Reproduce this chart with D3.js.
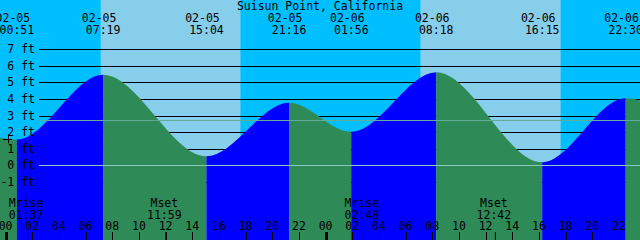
<!DOCTYPE html>
<meta charset="utf-8">
<style>
body { margin: 0; }
text { font-family: "DejaVu Sans Mono", monospace; font-size: 11.5px; fill: #000; }
</style>
<body>
<script src="https://cdn.jsdelivr.net/npm/d3@7"></script>
<script>
// tide events (first and last lie just outside the window)
var tideTimes = ["2024-02-04 18:20", "2024-02-05 00:51", "2024-02-05 07:19", "2024-02-05 15:04",
                 "2024-02-05 21:16", "2024-02-06 01:56", "2024-02-06 08:18", "2024-02-06 16:15",
                 "2024-02-06 22:30", "2024-02-07 03:15"];
var tideHeights = [3.9, 1.56, 5.47, 0.55, 3.78, 2.02, 5.62, 0.18, 4.04, 2.1];

var sunrise = ["2024-02-05 07:08", "2024-02-06 07:07"];
var sunset = ["2024-02-05 17:37", "2024-02-06 17:38"];

var moonLabels = ["Mrise", "Mset", "Mrise", "Mset"];
var moonTimes = ["2024-02-05 01:37", "2024-02-05 11:59", "2024-02-06 02:48", "2024-02-06 12:42"];

var feetTicks = [-1, 0, 1, 2, 3, 4, 5, 6, 7];
var mslHeight = 2.71;
var nowMark = ["2024-02-05 00:09", 1.6];

var title = "Suisun Point, California";

var width = 640, height = 240;
var parse = d3.utcParse("%Y-%m-%d %H:%M");
var fmtDate = d3.utcFormat("%m-%d"), fmtTime = d3.utcFormat("%H:%M"), fmtHour = d3.utcFormat("%H");

var x = d3.scaleUtc()
    .domain([parse("2024-02-04 23:35"), parse("2024-02-06 23:35")])
    .range([0, width]);
var y = d3.scaleLinear().domain([0, 7]).range([165.3, 49.3]);

var tides = tideTimes.map(function(t, i) { return {t: parse(t), h: tideHeights[i]}; });

var svg = d3.select("body").append("svg")
    .attr("width", width)
    .attr("height", height);

// sky: night then daylight bands
svg.append("rect").attr("width", width).attr("height", height).attr("fill", "#00bfff");
svg.selectAll(".day")
    .data(sunrise)
  .enter().append("rect")
    .attr("x", function(d) { return x(parse(d)); })
    .attr("width", function(d, i) { return x(parse(sunset[i])) - x(parse(d)); })
    .attr("y", 0).attr("height", height)
    .attr("fill", "#87ceeb");

// grid
svg.selectAll(".grid")
    .data(feetTicks.filter(function(d) { return d != 0; }))
  .enter().append("line")
    .attr("x1", 39).attr("x2", width)
    .attr("y1", function(d) { return Math.round(y(d)) + 0.5; })
    .attr("y2", function(d) { return Math.round(y(d)) + 0.5; })
    .attr("stroke", "#000");

// tide fill, rising blue, falling green
var area = d3.area()
    .x(function(d) { return x(d.t); })
    .y0(height)
    .y1(function(d) { return y(d.h); })
    .curve(d3.curveMonotoneX);

svg.append("clipPath").attr("id", "tide")
  .append("path").attr("d", area(tides));

svg.append("g").attr("clip-path", "url(#tide)")
  .selectAll("rect")
    .data(d3.pairs(tides))
  .enter().append("rect")
    .attr("x", function(d) { return x(d[0].t); })
    .attr("width", function(d) { return x(d[1].t) - x(d[0].t); })
    .attr("y", 0).attr("height", height)
    .attr("fill", function(d) { return d[1].h > d[0].h ? "#0000ff" : "#2e8b57"; });

// datum and mean sea level
svg.append("line")
    .attr("x1", 39).attr("x2", width)
    .attr("y1", Math.round(y(0)) + 0.5).attr("y2", Math.round(y(0)) + 0.5)
    .attr("stroke", "#86cbbd");
svg.append("line")
    .attr("x1", 39).attr("x2", width)
    .attr("y1", Math.round(y(mslHeight)) + 0.5).attr("y2", Math.round(y(mslHeight)) + 0.5)
    .attr("stroke", "#62ab9a");

// foot labels
svg.selectAll(".ft")
    .data(feetTicks)
  .enter().append("text")
    .attr("x", 35)
    .attr("y", function(d) { return y(d) + 4; })
    .attr("text-anchor", "end")
    .text(function(d) { return d + " ft"; });

// title and tide event labels
svg.append("text").attr("x", 320).attr("y", 9.5).attr("text-anchor", "middle").text(title);

var ev = svg.selectAll(".ev")
    .data(tides.filter(function(d) { return d.t >= x.domain()[0] && d.t <= x.domain()[1]; }))
  .enter().append("g")
    .attr("transform", function(d) { return "translate(" + x(d.t) + ",0)"; });
ev.append("text").attr("x", -4).attr("y", 22).attr("text-anchor", "middle")
    .text(function(d) { return fmtDate(d.t); });
ev.append("text").attr("y", 34).attr("text-anchor", "middle")
    .text(function(d) { return fmtTime(d.t); });

// moon rise / set
var moon = svg.selectAll(".moon")
    .data(moonTimes)
  .enter().append("g")
    .attr("transform", function(d) { return "translate(" + x(parse(d)) + ",0)"; });
moon.append("text").attr("x", -1).attr("y", 207).attr("text-anchor", "middle")
    .text(function(d, i) { return moonLabels[i]; });
moon.append("text").attr("x", -1).attr("y", 218.5).attr("text-anchor", "middle")
    .text(function(d) { return fmtTime(parse(d)); });
moon.append("line")
    .attr("x1", 0.5).attr("x2", 0.5).attr("y1", 232).attr("y2", height)
    .attr("stroke", "#000");

// hour axis
var hours = x.ticks(d3.utcHour.every(2));
svg.selectAll(".hr")
    .data(hours)
  .enter().append("text")
    .attr("x", function(d) { return x(d); })
    .attr("y", 229.5)
    .attr("text-anchor", "middle")
    .text(function(d) { return fmtHour(d); });
svg.selectAll(".tick")
    .data(hours)
  .enter().append("rect")
    .attr("x", function(d) { return d.getUTCHours() == 0 ? Math.round(x(d)) - 1 : Math.round(x(d)); })
    .attr("width", function(d) { return d.getUTCHours() == 0 ? 3 : 1; })
    .attr("y", 232).attr("height", height - 232)
    .attr("fill", "#000");

// current time mark
var mx = x(parse(nowMark[0])), my = y(nowMark[1]);
svg.append("path")
    .attr("d", "M" + (mx - 4.5) + "," + (Math.round(my) + 0.5) + "h9M" + (Math.round(mx) + 0.5) + "," + (my - 4.5) + "v9")
    .attr("stroke", "#000");
</script>
</body>
